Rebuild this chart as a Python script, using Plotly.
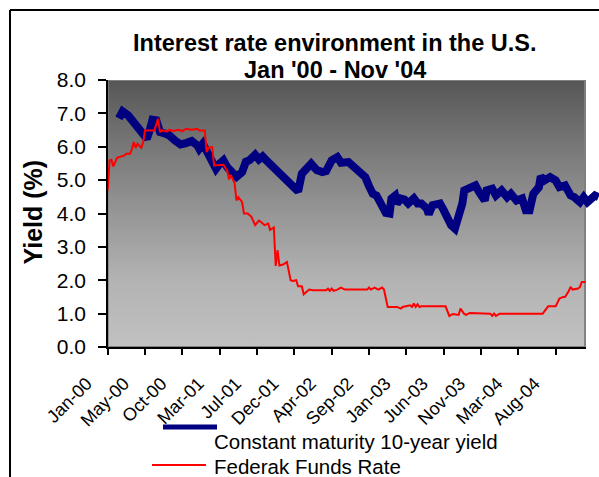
import plotly.graph_objects as go

W, H = 599, 477

# ---- data (weekly index, week 0 = first week of Jan 2000) ----
tick_weeks = [0, 20, 40, 60, 80, 100, 120, 140, 160, 180, 200, 220, 240]
tick_labels = ["Jan-00", "May-00", "Oct-00", "Mar-01", "Jul-01", "Dec-01", "Apr-02",
               "Sep-02", "Jan-03", "Jun-03", "Nov-03", "Mar-04", "Aug-04"]

ten_year_week = [6, 8, 11, 14, 16, 19, 21, 23, 24, 26, 28, 31, 33, 36, 39, 42, 45, 48, 49, 51,
                 53, 54, 56, 58, 60, 62, 64, 66, 69, 72, 74, 76, 79, 81, 83, 85, 88, 91, 94, 97,
                 99, 102, 104, 107, 109, 112, 115, 117, 120, 123, 125, 129, 132, 135, 138, 140,
                 142, 144, 146, 148, 149, 151, 152, 154, 155, 157, 159, 161, 164, 166, 168, 171,
                 172, 174, 176, 178, 180, 182, 184, 186, 188, 190, 191, 194, 197, 199, 202, 203,
                 206, 208, 211, 214, 216, 219, 222, 224, 226, 228, 231, 232, 234, 237, 240, 242,
                 245, 248, 250, 253, 255, 257, 259, 261, 263]
ten_year = [6.85, 7.06, 6.94, 6.74, 6.64, 6.44, 6.24, 6.59, 6.81, 6.79, 6.44, 6.39, 6.34, 6.19,
            6.07, 6.11, 6.17, 6.04, 5.94, 6.09, 5.89, 5.74, 5.54, 5.34, 5.49, 5.59, 5.39, 5.29,
            5.10, 5.24, 5.55, 5.60, 5.76, 5.62, 5.71, 5.59, 5.44, 5.29, 5.09, 4.94, 4.84, 4.66,
            5.19, 5.34, 5.49, 5.30, 5.24, 5.27, 5.59, 5.69, 5.52, 5.54, 5.40, 5.19, 5.09, 4.82,
            4.59, 4.54, 4.34, 4.15, 4.02, 4.00, 4.45, 4.54, 4.30, 4.45, 4.42, 4.30, 4.45, 4.30,
            4.30, 4.15, 3.98, 4.25, 4.25, 4.30, 4.10, 3.85, 3.65, 3.55, 3.90, 4.30, 4.69, 4.77,
            4.84, 4.64, 4.39, 4.69, 4.74, 4.54, 4.69, 4.49, 4.59, 4.39, 4.45, 4.10, 4.10, 4.59,
            4.79, 5.11, 4.99, 5.09, 4.99, 4.79, 4.84, 4.54, 4.49, 4.34, 4.49, 4.34, 4.49, 4.54,
            4.49]

fed_week = [0, 1, 2, 3, 5, 7, 9, 10, 12, 13, 14, 15, 16, 18, 19, 20, 23, 25, 27, 28, 29, 32,
            33, 35, 38, 40, 42, 45, 48, 49, 52, 53, 54, 56, 57, 59, 62, 64, 65, 66, 68, 69, 70,
            72, 73, 75, 77, 79, 81, 82, 84, 86, 87, 89, 90, 91, 92, 94, 96, 98, 99, 101, 102,
            104, 105, 107, 108, 110, 117, 118, 119, 120, 121, 123, 125, 127, 139, 140, 141,
            143, 145, 147, 148, 150, 155, 157, 158, 162, 163, 164, 165, 166, 167, 168, 181,
            183, 185, 188, 189, 191, 192, 194, 205, 206, 207, 208, 210, 233, 236, 240, 242,
            244, 245, 247, 248, 249, 252, 253, 254, 256]
fed_funds = [4.69, 5.59, 5.61, 5.41, 5.67, 5.71, 5.74, 5.79, 5.79, 5.94, 6.14, 5.97, 6.09,
             5.97, 6.14, 6.49, 6.49, 6.49, 6.84, 6.44, 6.49, 6.46, 6.51, 6.47, 6.51, 6.47,
             6.54, 6.51, 6.54, 6.49, 6.49, 5.84, 5.97, 5.99, 5.44, 5.44, 5.46, 5.29, 5.02,
             5.15, 4.90, 4.39, 4.49, 4.34, 4.00, 4.00, 3.90, 3.65, 3.79, 3.75, 3.65, 3.70,
             3.51, 3.58, 2.43, 2.90, 2.44, 2.47, 2.55, 2.00, 1.98, 2.00, 1.82, 1.82, 1.58,
             1.68, 1.72, 1.70, 1.70, 1.75, 1.68, 1.75, 1.68, 1.72, 1.78, 1.72, 1.72, 1.78,
             1.72, 1.78, 1.72, 1.78, 1.72, 1.20, 1.20, 1.15, 1.20, 1.25, 1.20, 1.30, 1.20,
             1.28, 1.20, 1.22, 1.22, 0.93, 0.99, 0.96, 1.15, 0.99, 0.96, 1.02, 1.00, 0.93,
             1.00, 0.93, 1.00, 1.00, 1.22, 1.22, 1.45, 1.50, 1.50, 1.68, 1.80, 1.72, 1.75,
             1.80, 1.95, 1.95]

series_names = ["Constant maturity 10-year yield", "Federak Funds Rate"]
title_lines = ["Interest rate environment in the U.S.", "Jan '00 - Nov '04"]
y_title = "Yield (%)"

# ---- layout geometry (pixels) ----
PX_L, PX_R, PX_R_WIDE = 107.7, 586.0, 599.0
PX_T, PX_B = 80.0, 347.0
PX_PER_WEEK = (555.7 - 107.7) / 240.0
last_week_main = (PX_R - PX_L) / PX_PER_WEEK
last_week_wide = (PX_R_WIDE - PX_L) / PX_PER_WEEK


def fx(px):
    return px / W


def fy(py):
    return 1 - py / H


FONT = "Liberation Sans, Arial, sans-serif"

fig = go.Figure()

# plot-area gradient background
fig.add_trace(go.Scatter(
    x=[0, last_week_main - 0.5, last_week_main - 0.5, 0, 0],
    y=[0, 0, 8, 8, 0],
    mode="lines", fill="toself",
    line=dict(color="#808080", width=2),
    fillgradient=dict(type="vertical",
                      colorscale=[[0, "#c1c1c1"], [0.25, "#b3b3b3"], [0.5, "#969696"],
                                  [0.75, "#787878"], [1, "#565656"]]),
    hoverinfo="skip", showlegend=False, xaxis="x", yaxis="y"))

fig.add_trace(go.Scatter(
    x=ten_year_week, y=ten_year, mode="lines", name=series_names[0],
    line=dict(color="#000080", width=8), hoverinfo="skip", showlegend=False,
    xaxis="x2", yaxis="y2"))

fig.add_trace(go.Scatter(
    x=fed_week, y=fed_funds, mode="lines", name=series_names[1],
    line=dict(color="#ff0000", width=2), hoverinfo="skip", showlegend=False,
    xaxis="x2", yaxis="y2"))

fig.update_layout(
    width=W, height=H, autosize=False, showlegend=False,
    margin=dict(l=0, r=0, t=0, b=0, pad=0, autoexpand=False),
    paper_bgcolor="white", plot_bgcolor="rgba(0,0,0,0)",
    font=dict(family=FONT, color="black"),
    xaxis=dict(domain=[fx(PX_L), fx(PX_R)], range=[0, last_week_main], automargin=False,
               showgrid=False, zeroline=False, showline=True, linecolor="black", linewidth=2,
               ticks="outside", ticklen=6, tickwidth=2, tickcolor="black",
               tickvals=tick_weeks, ticktext=tick_labels, tickangle=-45,
               ticklabelshift=-21, ticklabelstandoff=11,
               tickfont=dict(size=18, family=FONT, color="black"),
               anchor="y", fixedrange=True),
    yaxis=dict(domain=[fy(PX_B), fy(PX_T)], range=[0, 8], automargin=False,
               showgrid=False, zeroline=False, showline=True, linecolor="black", linewidth=2,
               ticks="outside", ticklen=8, tickwidth=2, tickcolor="black",
               dtick=1, tick0=0, showticklabels=False, anchor="x", fixedrange=True),
    xaxis2=dict(domain=[fx(PX_L), fx(PX_R_WIDE)], range=[0, last_week_wide], visible=False,
                automargin=False, anchor="y2", fixedrange=True),
    yaxis2=dict(domain=[fy(PX_B), fy(PX_T)], range=[0, 8], automargin=False,
                showgrid=False, zeroline=False, showline=False, ticks="",
                dtick=1, tick0=0, tickformat=".1f", showticklabels=True,
                tickfont=dict(size=21, family=FONT, color="black"),
                anchor="free", position=fx(86), fixedrange=True),
)

# titles
fig.add_annotation(text="<b>%s</b>" % title_lines[0], x=fx(334.5), y=fy(43), xref="paper", yref="paper",
                   showarrow=False, xanchor="center", yanchor="middle",
                   font=dict(size=23.5, family=FONT, color="black"))
fig.add_annotation(text="<b>%s</b>" % title_lines[1], x=fx(334.5), y=fy(70.5), xref="paper", yref="paper",
                   showarrow=False, xanchor="center", yanchor="middle",
                   font=dict(size=23.5, family=FONT, color="black"))
fig.add_annotation(text="<b>%s</b>" % y_title, x=fx(32.5), y=fy(212), xref="paper", yref="paper",
                   showarrow=False, xanchor="center", yanchor="middle", textangle=-90,
                   font=dict(size=25, family=FONT, color="black"))

# legend
fig.add_shape(type="line", xref="paper", yref="paper", x0=fx(163), x1=fx(217), y0=fy(427), y1=fy(427),
              line=dict(color="#000080", width=5))
fig.add_shape(type="line", xref="paper", yref="paper", x0=fx(152), x1=fx(206), y0=fy(465), y1=fy(465),
              line=dict(color="#ff0000", width=2))
fig.add_annotation(text=series_names[0], x=fx(213), y=fy(441), xref="paper", yref="paper",
                   showarrow=False, xanchor="left", yanchor="middle", borderpad=0,
                   font=dict(size=20.5, family=FONT, color="black"))
fig.add_annotation(text=series_names[1], x=fx(213), y=fy(466), xref="paper", yref="paper",
                   showarrow=False, xanchor="left", yanchor="middle", borderpad=0,
                   font=dict(size=20.5, family=FONT, color="black"))

# chart frame
fig.add_shape(type="line", xref="paper", yref="paper", x0=fx(10), x1=fx(10), y0=0, y1=fy(10),
              line=dict(color="black", width=2))
fig.add_shape(type="line", xref="paper", yref="paper", x0=fx(10), x1=1, y0=fy(10), y1=fy(10),
              line=dict(color="black", width=2))

fig.write_html("out.html", config={"responsive": False, "displayModeBar": False},
               post_script="document.body.style.margin='0';document.body.style.overflow='hidden';")
